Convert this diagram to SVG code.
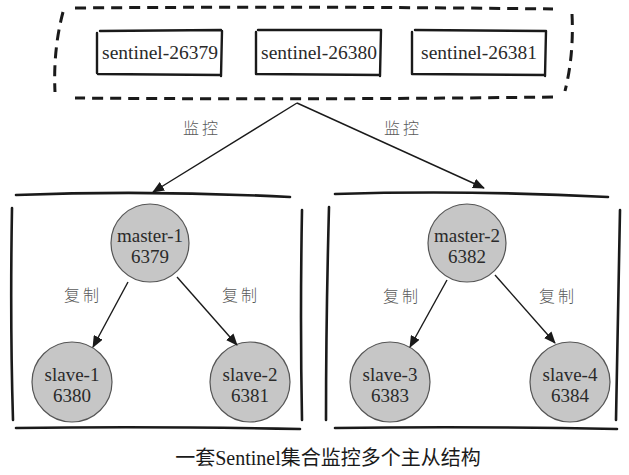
<svg xmlns="http://www.w3.org/2000/svg" width="629" height="475" viewBox="0 0 629 475">
<style>
.bg{fill:#ffffff}
.sk{fill:none;stroke:#1a1a1a;stroke-width:2.6;stroke-linecap:round}
.dash{fill:none;stroke:#1a1a1a;stroke-width:3;stroke-dasharray:11 7}
.box{fill:none;stroke:#1a1a1a;stroke-width:2.4;stroke-linecap:round}
.node{fill:#c6c6c6;stroke:#555;stroke-width:1.2}
.t{font-family:'Liberation Serif','DejaVu Serif',serif;font-size:19px;fill:#2a2a2a;text-anchor:middle}
.st{font-family:'Liberation Serif','DejaVu Serif',serif;font-size:19.5px;fill:#2a2a2a;text-anchor:middle}
.lbl{font-family:'Noto Sans CJK SC','Noto Sans',sans-serif;font-size:16px;font-weight:300;fill:#5a5a5a;text-anchor:middle;letter-spacing:3px}
.cap{font-family:'Liberation Serif','Noto Sans CJK SC',serif;font-size:20px;fill:#1a1a1a;text-anchor:middle}
.edge{fill:none;stroke:#1a1a1a;stroke-width:1.4}
</style>
<defs>
<marker id="ah" viewBox="0 0 12 10" refX="11" refY="5" markerWidth="12" markerHeight="10" markerUnits="userSpaceOnUse" orient="auto">
<path d="M0,0 L12,5 L0,10 Z" fill="#1a1a1a"/>
</marker>
</defs>
<rect class="bg" width="629" height="475"/>

<g id="sentinel-group">
<path class="dash" d="M75,8 Q320,6 553,9"/>
<path class="dash" d="M553,97 Q320,100 75,98"/>
<path class="dash" d="M63,12 Q53,50 55,92"/>
<path class="dash" d="M572,14 Q574,55 565,91"/>
</g>

<g id="sentinel-26379">
<path class="box" d="M100,31 L221,30 M98,74 L220,75 M97,33 L97,73 M222,31 L221,76"/>
<text class="st" x="160" y="59">sentinel-26379</text>
</g>
<g id="sentinel-26380">
<path class="box" d="M258,30 L381,30 M257,74 L380,75 M256,32 L256,74 M381,30 L380,76"/>
<text class="st" x="319" y="59">sentinel-26380</text>
</g>
<g id="sentinel-26381">
<path class="box" d="M415,30 L545,31 M413,74 L545,75 M412,32 L412,74 M546,31 L545,76"/>
<text class="st" x="479" y="59">sentinel-26381</text>
</g>

<g id="cluster-1">
<path class="sk" d="M16,195 Q150,190 290,197"/>
<path class="sk" d="M12,208 Q10,320 13,420"/>
<path class="sk" d="M302,210 Q300,320 302,420"/>
<path class="sk" d="M16,428 Q150,426 300,429"/>
</g>
<g id="cluster-2">
<path class="sk" d="M335,194 Q470,190 608,197"/>
<path class="sk" d="M329,207 Q326,320 326,420"/>
<path class="sk" d="M620,210 Q618,320 616,420"/>
<path class="sk" d="M335,428 Q470,426 617,429"/>
</g>

<g id="master-1">
<circle class="node" cx="150" cy="243" r="39"/>
<text class="t" x="150" y="242">master-1</text>
<text class="t" x="150" y="263">6379</text>
</g>
<g id="slave-1">
<circle class="node" cx="72" cy="382" r="40"/>
<text class="t" x="72" y="381">slave-1</text>
<text class="t" x="72" y="402">6380</text>
</g>
<g id="slave-2">
<circle class="node" cx="250" cy="382" r="40"/>
<text class="t" x="250" y="381">slave-2</text>
<text class="t" x="250" y="402">6381</text>
</g>
<g id="master-2">
<circle class="node" cx="467" cy="243" r="39"/>
<text class="t" x="467" y="242">master-2</text>
<text class="t" x="467" y="263">6382</text>
</g>
<g id="slave-3">
<circle class="node" cx="390" cy="382" r="40"/>
<text class="t" x="390" y="381">slave-3</text>
<text class="t" x="390" y="402">6383</text>
</g>
<g id="slave-4">
<circle class="node" cx="570" cy="382" r="40"/>
<text class="t" x="570" y="381">slave-4</text>
<text class="t" x="570" y="402">6384</text>
</g>

<g id="connectors">
<line class="edge" x1="297" y1="103" x2="153" y2="192" marker-end="url(#ah)"/>
<line class="edge" x1="297" y1="103" x2="484" y2="188" marker-end="url(#ah)"/>
<line class="edge" x1="128" y1="282" x2="93" y2="347" marker-end="url(#ah)"/>
<line class="edge" x1="177" y1="277" x2="237" y2="345" marker-end="url(#ah)"/>
<line class="edge" x1="447" y1="280" x2="410" y2="347" marker-end="url(#ah)"/>
<line class="edge" x1="495" y1="275" x2="555" y2="343" marker-end="url(#ah)"/>
<text class="lbl" x="202" y="134">监控</text>
<text class="lbl" x="403" y="134">监控</text>
<text class="lbl" x="83" y="301">复制</text>
<text class="lbl" x="241" y="301">复制</text>
<text class="lbl" x="402" y="302">复制</text>
<text class="lbl" x="558" y="302">复制</text>
</g>

<text class="cap" x="328" y="465">一套Sentinel集合监控多个主从结构</text>
</svg>
